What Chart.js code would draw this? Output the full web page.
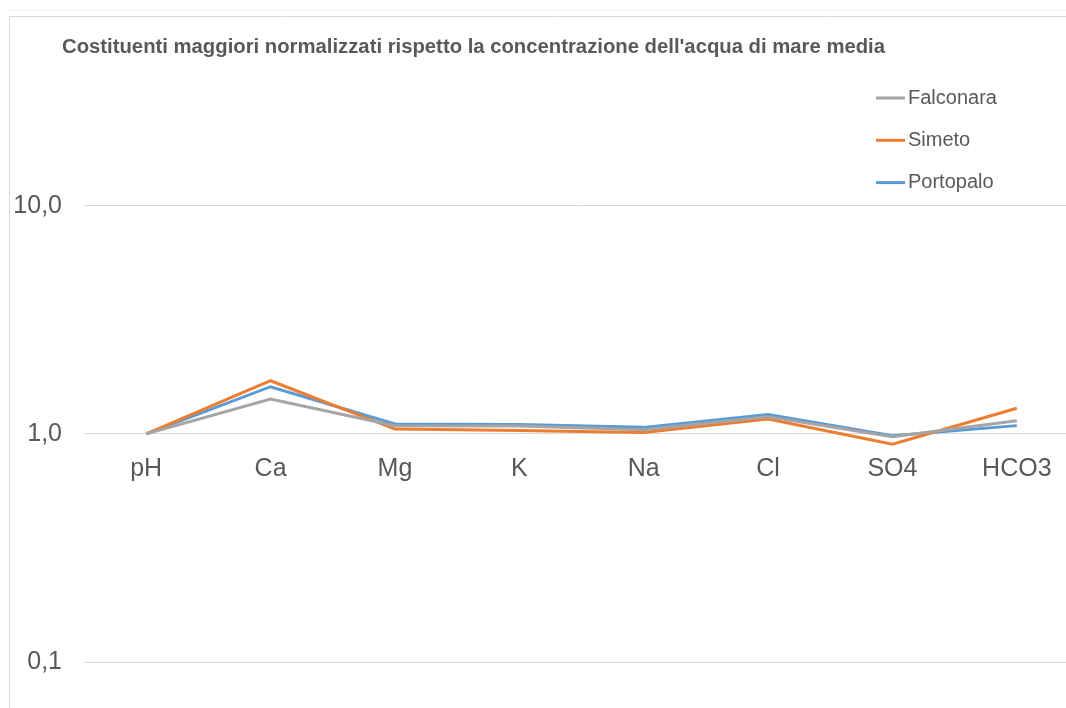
<!DOCTYPE html>
<html>
<head>
<meta charset="utf-8">
<script src="https://cdn.jsdelivr.net/npm/chart.js@4/dist/chart.umd.min.js"></script>
<style>
html, body { margin: 0; padding: 0; background: #ffffff; overflow: hidden; width: 1066px; height: 708px; }
#wrap { position: absolute; left: 0; top: 0; width: 1100px; height: 708px; }
</style>
</head>
<body>
<div id="wrap"><canvas id="c"></canvas></div>
<script>
const titleText = "Costituenti maggiori normalizzati rispetto la concentrazione dell'acqua di mare media";
const categories = ["pH", "Ca", "Mg", "K", "Na", "Cl", "SO4", "HCO3"];
const seriesNames = ["Falconara", "Simeto", "Portopalo"];
const falconara = [1.00, 1.42, 1.085, 1.082, 1.042, 1.19, 0.972, 1.143];
const simeto    = [1.00, 1.71, 1.050, 1.036, 1.013, 1.162, 0.901, 1.296];
const portopalo = [1.00, 1.61, 1.106, 1.100, 1.068, 1.215, 0.982, 1.087];
const yTicks = [0.1, 1, 10];
const seriesColors = ["#A5A5A5", "#ED7D31", "#5B9BD5"];

const FONT = '"Liberation Sans", Arial, sans-serif';

const frame = {
  id: 'frame',
  beforeDraw(chart) {
    const ctx = chart.ctx;
    ctx.save();
    ctx.fillStyle = '#ffffff';
    ctx.fillRect(0, 0, chart.width, chart.height);
    ctx.lineWidth = 1;
    ctx.strokeStyle = '#f2f2f2';
    ctx.beginPath(); ctx.moveTo(8, 10.5); ctx.lineTo(chart.width, 10.5); ctx.stroke();
    ctx.strokeStyle = '#d9d9d9';
    ctx.beginPath(); ctx.moveTo(9.5, chart.height); ctx.lineTo(9.5, 16.5); ctx.lineTo(chart.width, 16.5); ctx.stroke();
    ctx.restore();
  }
};

const titleAndLegend = {
  id: 'titleAndLegend',
  afterDraw(chart) {
    const ctx = chart.ctx;
    ctx.save();
    ctx.textBaseline = 'middle';
    ctx.textAlign = 'left';
    ctx.fillStyle = '#595959';
    ctx.font = 'bold 20.3px ' + FONT;
    ctx.fillText(titleText, 62, 47.5);
    ctx.font = '20px ' + FONT;
    chart.data.datasets.forEach((ds, i) => {
      const y = 98 + i * 42.3;
      ctx.strokeStyle = ds.borderColor;
      ctx.lineWidth = 3;
      ctx.beginPath(); ctx.moveTo(876, y); ctx.lineTo(905, y); ctx.stroke();
      ctx.fillStyle = '#595959';
      ctx.fillText(ds.label, 908, y);
    });
    ctx.restore();
  }
};

const allSeries = [falconara, simeto, portopalo];
new Chart(document.getElementById('c'), {
  type: 'line',
  data: {
    labels: categories,
    datasets: allSeries.map((d, i) => ({
      label: seriesNames[i],
      data: d,
      borderColor: seriesColors[i],
      backgroundColor: seriesColors[i],
      borderWidth: 3,
      pointRadius: 0,
      tension: 0,
      fill: false
    }))
  },
  options: {
    responsive: true,
    maintainAspectRatio: false,
    animation: false,
    events: [],
    layout: { padding: { left: 0, right: 21, top: 66, bottom: 46 } },
    plugins: {
      legend: { display: false },
      tooltip: { enabled: false },
      title: { display: false }
    },
    scales: {
      x: {
        type: 'category',
        position: { y: 1 },
        offset: true,
        grid: { display: false, drawTicks: false },
        border: { display: false },
        ticks: {
          color: '#595959',
          font: { family: FONT, size: 25 },
          padding: 20,
          maxRotation: 0,
          autoSkip: false
        },
        afterFit(scale) { scale.height = 0; }
      },
      y: {
        type: 'logarithmic',
        min: 0.1,
        max: 41,
        afterBuildTicks(scale) { scale.ticks = yTicks.map(v => ({ value: v })); },
        grid: { color: '#d9d9d9', lineWidth: 1, drawTicks: false },
        border: { display: false },
        ticks: {
          color: '#595959',
          font: { family: FONT, size: 25 },
          padding: 22,
          autoSkip: false,
          callback: (v) => Number(v).toFixed(1).replace('.', ',')
        },
        afterFit(scale) { scale.width = 84; }
      }
    }
  },
  plugins: [frame, titleAndLegend]
});
</script>
</body>
</html>
